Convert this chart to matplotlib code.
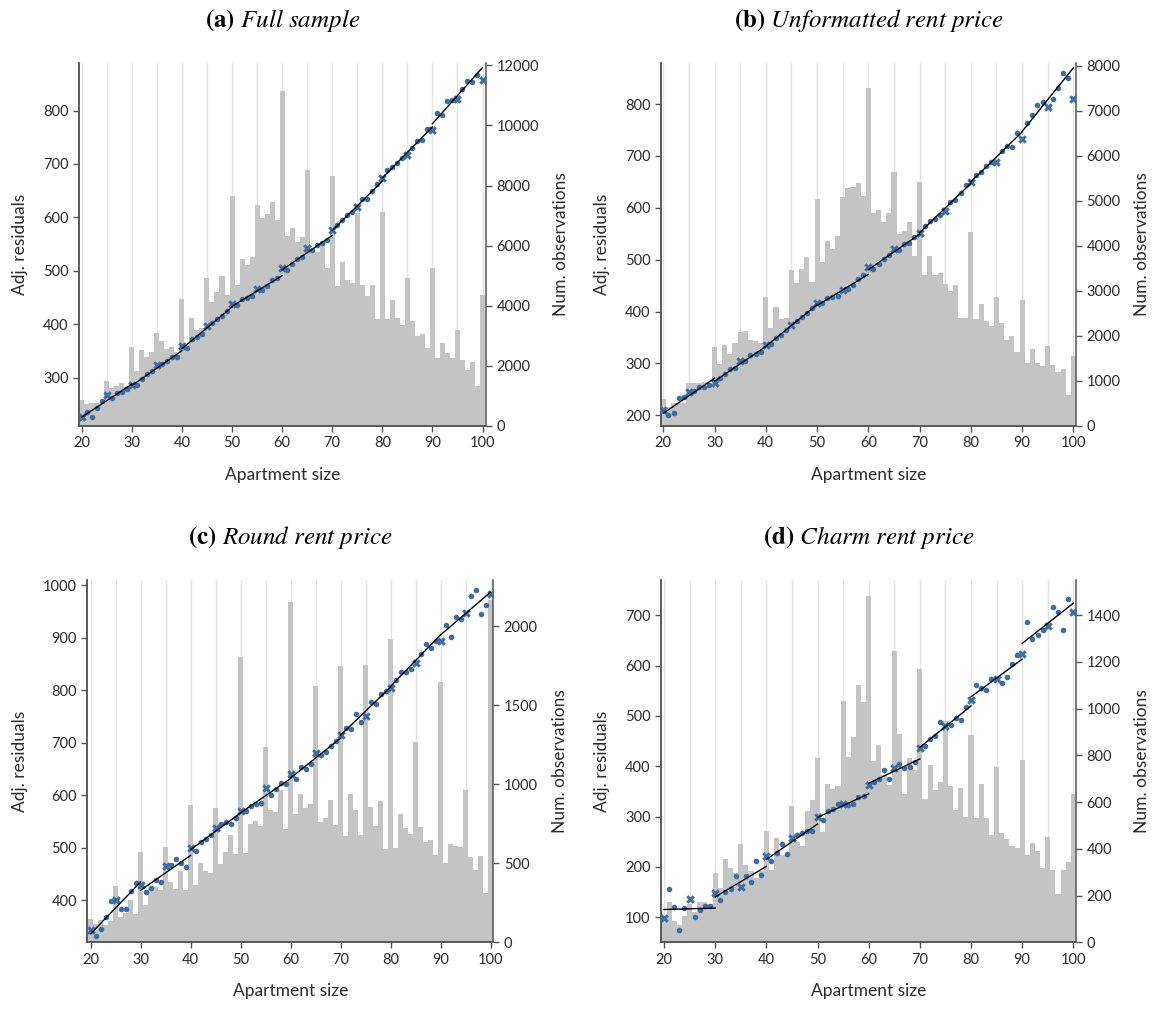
import matplotlib
matplotlib.use("Agg")
import matplotlib.pyplot as plt
import numpy as np

plt.rcParams["font.family"] = "Lato"
plt.rcParams["mathtext.fontset"] = "stix"

sizes = np.arange(20, 101)

# Number of listings per apartment size (m2), one list per sample
full_counts = [
    850, 720, 740, 760, 700, 1490, 1250, 1330, 1410, 1300,
    2630, 1830, 2520, 2300, 2470, 3100, 2820, 2550, 2630, 2470,
    4220, 2700, 3600, 3190, 3240, 4930, 4110, 4460, 4990, 4350,
    7660, 4690, 5540, 5350, 5620, 7350, 6920, 7050, 7450, 6850,
    11150, 6320, 6590, 6130, 6300, 8520, 5860, 5770, 6120, 5240,
    8320, 4660, 5460, 4850, 4750, 7090, 4690, 4320, 4690, 3550,
    7120, 3550, 4200, 3600, 3360, 4910, 3490, 3000, 3050, 2600,
    5240, 2270, 2760, 2420, 2250, 3190, 2190, 1850, 2110, 1330,
    4340,
]
unformatted_counts = [
    593, 422, 496, 496, 511, 941, 941, 941, 978, 941,
    1749, 1371, 1793, 1593, 1830, 2082, 2104, 1904, 1882, 1830,
    2860, 2164, 2638, 2379, 2386, 3460, 3179, 3483, 3750, 3194,
    5039, 3638, 4098, 3927, 4216, 5091, 5283, 5313, 5387, 5105,
    7506, 4720, 4794, 4520, 4720, 5639, 4261, 4327, 4520, 3772,
    5417, 3342, 3772, 3342, 3394, 3149, 3001, 3120, 2393, 2393,
    4305, 2371, 2697, 2327, 2216, 2860, 2275, 1897, 1993, 1638,
    2794, 1393, 1704, 1386, 1326, 1771, 1356, 1193, 1260, 682,
    1549,
]
round_counts = [
    148, 116, 141, 112, 137, 357, 160, 188, 268, 179,
    572, 238, 352, 348, 331, 603, 382, 335, 451, 331,
    867, 363, 502, 451, 439, 850, 496, 572, 679, 559,
    1806, 565, 749, 768, 736, 1236, 838, 825, 964, 717,
    2154, 812, 939, 850, 876, 1623, 762, 787, 901, 743,
    1749, 673, 939, 838, 679, 1756, 857, 736, 895, 591,
    1920, 597, 812, 724, 686, 1268, 730, 635, 648, 553,
    1648, 502, 622, 610, 603, 964, 540, 458, 546, 312,
    2167,
]
charm_counts = [
    100, 171, 91, 73, 111, 162, 130, 171, 171, 162,
    297, 232, 356, 318, 297, 421, 331, 305, 275, 305,
    476, 309, 446, 373, 373, 583, 429, 412, 562, 609,
    788, 472, 677, 656, 669, 1032, 793, 878, 1100, 1028,
    1481, 775, 844, 716, 673, 1246, 891, 634, 788, 737,
    1169, 613, 758, 651, 686, 947, 669, 566, 660, 536,
    887, 532, 677, 532, 459, 750, 468, 442, 412, 403,
    780, 373, 425, 391, 318, 450, 309, 207, 309, 344,
    634,
]

# Mean adjusted residual per apartment size
full_resid = [
    227, 235, 226, 244, 256, 267, 261, 271, 274, 278,
    286, 287, 297, 306, 312, 323, 325, 332, 339, 338,
    359, 356, 372, 377, 381, 396, 402, 409, 416, 425,
    438, 436, 447, 449, 452, 466, 464, 471, 483, 487,
    506, 502, 512, 522, 526, 542, 539, 548, 552, 558,
    576, 585, 595, 604, 610, 619, 634, 635, 649, 663,
    673, 688, 694, 701, 711, 717, 730, 743, 745, 766,
    763, 796, 792, 817, 820, 821, 841, 856, 854, 867,
    858,
]
unformatted_resid = [
    210, 200, 205, 233, 236, 245, 246, 255, 254, 259,
    263, 271, 280, 289, 291, 305, 304, 316, 318, 322,
    336, 338, 350, 354, 365, 375, 381, 389, 397, 406,
    416, 416, 427, 428, 430, 442, 444, 452, 462, 470,
    486, 482, 491, 502, 509, 520, 518, 531, 533, 543,
    552, 565, 574, 579, 587, 594, 611, 615, 628, 643,
    649, 664, 669, 680, 688, 689, 710, 720, 718, 745,
    733, 763, 778, 799, 804, 794, 810, 831, 859, 851,
    810,
]
round_resid = [
    344, 333, 345, 369, 398, 400, 384, 384, 417, 433,
    430, 416, 424, 438, 434, 466, 468, 479, 472, 464,
    500, 494, 512, 516, 525, 537, 546, 549, 546, 556,
    570, 571, 580, 583, 585, 614, 600, 612, 624, 622,
    641, 632, 653, 650, 660, 680, 676, 683, 694, 704,
    715, 729, 727, 755, 740, 752, 777, 773, 793, 799,
    805, 819, 835, 834, 840, 852, 870, 889, 881, 894,
    894, 925, 902, 939, 936, 948, 979, 991, 946, 963,
    984,
]
charm_resid = [
    99, 156, 120, 75, 119, 136, 100, 114, 123, 123,
    148, 135, 151, 155, 181, 160, 181, 169, 211, 184,
    222, 211, 227, 246, 226, 257, 264, 268, 271, 272,
    299, 293, 311, 315, 325, 325, 323, 325, 338, 340,
    363, 368, 374, 393, 374, 397, 405, 396, 399, 409,
    436, 441, 455, 460, 487, 479, 482, 496, 492, 518,
    532, 562, 556, 552, 573, 574, 566, 577, 603, 621,
    624, 686, 652, 661, 671, 679, 717, 707, 671, 732,
    707,
]

BAR_COLOR = "#c4c4c4"
DOT_COLOR = "#3a6ea6"
SPINE_COLOR = "#555555"
TEXT_COLOR = "#2b2b2b"


def plot_panel(fig, rect, tag, name, counts, resid, res_ticks, res_lim, obs_ticks, obs_lim, xlim):
    ax_res = fig.add_axes(rect)
    ax_obs = ax_res.twinx()
    # residual scatter sits on top of the histogram
    ax_res.set_zorder(ax_obs.get_zorder() + 1)
    ax_res.patch.set_visible(False)

    # light guide lines every 5 m2, hidden behind the bars
    for x in range(20, 101, 5):
        ax_obs.axvline(x, color="#e4e4e4", lw=1.0, zorder=0)

    ax_obs.bar(sizes, counts, width=1.0, color=BAR_COLOR, linewidth=0, zorder=1)

    resid = np.asarray(resid, dtype=float)
    round_size = sizes % 5 == 0
    ax_res.scatter(sizes[~round_size], resid[~round_size], s=16, color=DOT_COLOR,
                   linewidths=0, zorder=3)
    ax_res.scatter(sizes[round_size], resid[round_size], s=38, marker="X", color=DOT_COLOR,
                   linewidths=0, zorder=3)

    # separate linear fit within each 10 m2 bracket
    for lo in range(20, 100, 10):
        mask = (sizes >= lo) & (sizes < lo + 10)
        slope, icpt = np.polyfit(sizes[mask], resid[mask], 1)
        xs = np.array([lo, lo + 10])
        ax_res.plot(xs, slope * xs + icpt, color="black", lw=1.0, zorder=4)

    ax_res.set_xlim(*xlim)
    ax_res.set_ylim(*res_lim)
    ax_obs.set_ylim(*obs_lim)
    ax_res.set_xticks(range(20, 101, 10))
    ax_res.set_yticks(res_ticks)
    ax_obs.set_yticks(obs_ticks)

    for ax in (ax_res, ax_obs):
        ax.spines["top"].set_visible(False)
        for side in ("left", "right", "bottom"):
            ax.spines[side].set_color(SPINE_COLOR)
            ax.spines[side].set_linewidth(1.1)
        ax.tick_params(direction="out", length=4.5, width=1.0, color=SPINE_COLOR,
                       labelsize=10.5, labelcolor=TEXT_COLOR, pad=3)
    ax_res.spines["right"].set_visible(False)

    ax_res.set_xlabel("Apartment size", fontsize=12.5, color=TEXT_COLOR, labelpad=12)
    ax_res.set_ylabel("Adj. residuals", fontsize=12.5, color=TEXT_COLOR, labelpad=11)
    ax_obs.set_ylabel("Num. observations", fontsize=12.5, color=TEXT_COLOR, labelpad=10)

    title_name = name.replace(" ", r"\ ")
    ax_res.set_title(r"$\mathbf{(" + tag + r")}$ $\mathit{" + title_name + "}$",
                     fontsize=18, pad=26)


fig = plt.figure(figsize=(11.58, 10.10), dpi=100)

plot_panel(fig, [0.0682, 0.5785, 0.3515, 0.3591], "a", "Full sample",
           full_counts, full_resid, range(300, 801, 100), (210, 889),
           range(0, 12001, 2000), (0, 12080), (19.45, 100.7))
plot_panel(fig, [0.5708, 0.5785, 0.3584, 0.3591], "b", "Unformatted rent price",
           unformatted_counts, unformatted_resid, range(200, 801, 100), (180, 879),
           range(0, 8001, 1000), (0, 8057), (19.55, 100.52))
plot_panel(fig, [0.0754, 0.0670, 0.3506, 0.3587], "c", "Round rent price",
           round_counts, round_resid, range(400, 1001, 100), (320, 1010),
           range(0, 2001, 500), (0, 2293), (19.33, 100.53))
plot_panel(fig, [0.5708, 0.0670, 0.3584, 0.3587], "d", "Charm rent price",
           charm_counts, charm_resid, range(100, 701, 100), (50, 770),
           range(0, 1401, 200), (0, 1550), (19.41, 100.52))

fig.savefig("out.png", dpi=100)
